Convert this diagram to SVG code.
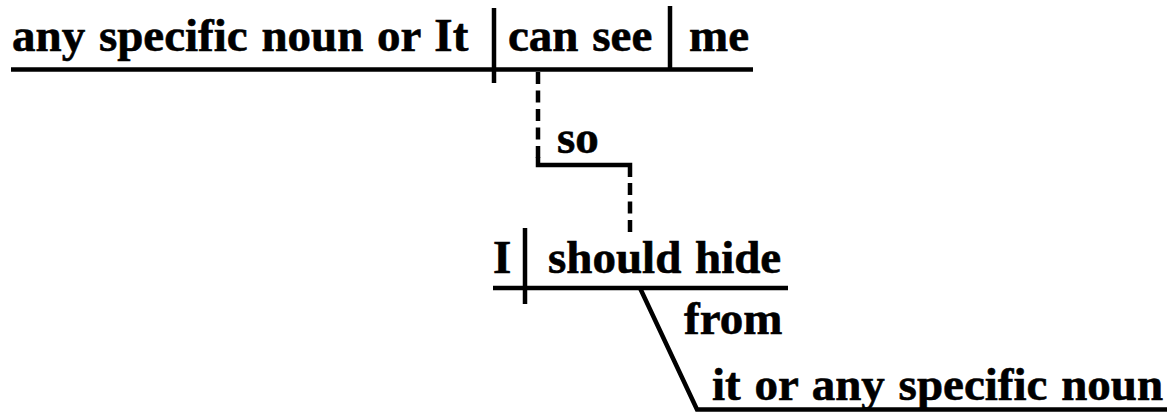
<svg xmlns="http://www.w3.org/2000/svg" width="1169" height="412" viewBox="0 0 1169 412">
<style>
text{font-family:"Liberation Serif","Times New Roman",serif;font-weight:bold;font-size:47px;fill:#000;stroke:#000;stroke-width:0.6;word-spacing:2px}
.ln{stroke:#000;stroke-width:4.5;fill:none;stroke-linecap:butt}
.dash{stroke-dasharray:12 6.5}
</style>
<rect width="1169" height="412" fill="#fff"/>
<g id="subject"><text x="12" y="51">any specific noun or It</text></g>
<g id="verb"><text x="508" y="51">can see</text></g>
<g id="object"><text x="689" y="51">me</text></g>
<g id="so"><text x="557" y="153">so</text></g>
<g id="subject2"><text x="493" y="273">I</text></g>
<g id="verb2"><text x="548" y="273">should hide</text></g>
<g id="prep"><text x="684" y="334">from</text></g>
<g id="pobj"><text x="712" y="400">it or any specific noun</text></g>
<g id="connectors">
<line class="ln" x1="11" y1="69.5" x2="753" y2="69.5"/>
<line class="ln" x1="494" y1="8" x2="494" y2="83"/>
<line class="ln" x1="670" y1="6" x2="670" y2="70"/>
<line class="ln dash" x1="538" y1="72" x2="538" y2="160"/>
<polyline class="ln" points="538,157 538,165 630,165 630,177"/>
<line class="ln dash" x1="630" y1="183" x2="630" y2="233"/>
<line class="ln" x1="493" y1="288" x2="788" y2="288"/>
<line class="ln" x1="525" y1="228" x2="525" y2="304"/>
<polyline class="ln" points="640,288 697,409.5 1167,409.5"/>
</g>
</svg>
